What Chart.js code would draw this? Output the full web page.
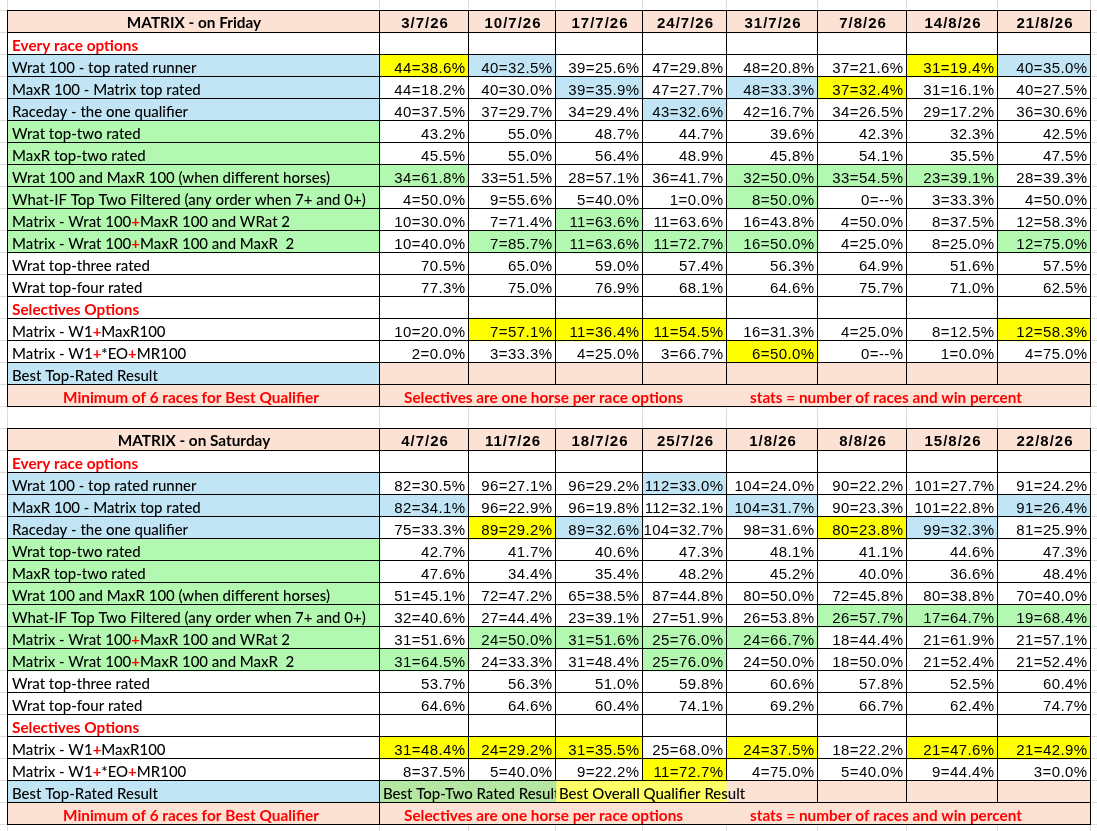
<!DOCTYPE html>
<html>
<head>
<meta charset="utf-8">
<title>MATRIX - Friday / Saturday</title>
<script src="https://cdn.jsdelivr.net/npm/chart.js@4.4.1/dist/chart.umd.min.js"></script>
<style>
  html, body { margin: 0; padding: 0; background: #ffffff; }
  canvas { display: block; }
</style>
</head>
<body>
<canvas id="matrix" width="1097" height="831"></canvas>
<script>
"use strict";

// ---- column headings ----
const fridayDates = ["3/7/26", "10/7/26", "17/7/26", "24/7/26", "31/7/26", "7/8/26", "14/8/26", "21/8/26"];
const saturdayDates = ["4/7/26", "11/7/26", "18/7/26", "25/7/26", "1/8/26", "8/8/26", "15/8/26", "22/8/26"];

// ---- row titles (same in both tables) ----
const optionLabels = [
  "Every race options",
  "Wrat 100 - top rated runner",
  "MaxR 100 - Matrix top rated",
  "Raceday - the one qualifier",
  "Wrat top-two rated",
  "MaxR top-two rated",
  "Wrat 100 and MaxR 100 (when different horses)",
  "What-IF Top Two Filtered (any order when 7+ and 0+)",
  "Matrix - Wrat 100+MaxR 100 and WRat 2",
  "Matrix - Wrat 100+MaxR 100 and MaxR  2",
  "Wrat top-three rated",
  "Wrat top-four rated",
  "Selectives Options",
  "Matrix - W1+MaxR100",
  "Matrix - W1+*EO+MR100",
  "Best Top-Rated Result"
];

const noteQualifier = "Minimum of 6 races for Best Qualifier";
const noteSelectives = "Selectives are one horse per race options";
const noteStats = "stats = number of races and win percent";
const bestTwoText = "Best Top-Two Rated Result";
const bestOverallText = "Best Overall Qualifier Result";

// ---- Friday: [races, win %] or win % ----
const friWrat100 = [[44, 38.6], [40, 32.5], [39, 25.6], [47, 29.8], [48, 20.8], [37, 21.6], [31, 19.4], [40, 35.0]];
const friMaxR100 = [[44, 18.2], [40, 30.0], [39, 35.9], [47, 27.7], [48, 33.3], [37, 32.4], [31, 16.1], [40, 27.5]];
const friRaceday = [[40, 37.5], [37, 29.7], [34, 29.4], [43, 32.6], [42, 16.7], [34, 26.5], [29, 17.2], [36, 30.6]];
const friWratTop2 = [43.2, 55.0, 48.7, 44.7, 39.6, 42.3, 32.3, 42.5];
const friMaxRTop2 = [45.5, 55.0, 56.4, 48.9, 45.8, 54.1, 35.5, 47.5];
const friWratMaxR = [[34, 61.8], [33, 51.5], [28, 57.1], [36, 41.7], [32, 50.0], [33, 54.5], [23, 39.1], [28, 39.3]];
const friWhatIf = [[4, 50.0], [9, 55.6], [5, 40.0], [1, 0.0], [8, 50.0], [0, null], [3, 33.3], [4, 50.0]];
const friMatrixW2 = [[10, 30.0], [7, 71.4], [11, 63.6], [11, 63.6], [16, 43.8], [4, 50.0], [8, 37.5], [12, 58.3]];
const friMatrixM2 = [[10, 40.0], [7, 85.7], [11, 63.6], [11, 72.7], [16, 50.0], [4, 25.0], [8, 25.0], [12, 75.0]];
const friWratTop3 = [70.5, 65.0, 59.0, 57.4, 56.3, 64.9, 51.6, 57.5];
const friWratTop4 = [77.3, 75.0, 76.9, 68.1, 64.6, 75.7, 71.0, 62.5];
const friSelW1MaxR = [[10, 20.0], [7, 57.1], [11, 36.4], [11, 54.5], [16, 31.3], [4, 25.0], [8, 12.5], [12, 58.3]];
const friSelW1EO = [[2, 0.0], [3, 33.3], [4, 25.0], [3, 66.7], [6, 50.0], [0, null], [1, 0.0], [4, 75.0]];

// ---- Saturday ----
const satWrat100 = [[82, 30.5], [96, 27.1], [96, 29.2], [112, 33.0], [104, 24.0], [90, 22.2], [101, 27.7], [91, 24.2]];
const satMaxR100 = [[82, 34.1], [96, 22.9], [96, 19.8], [112, 32.1], [104, 31.7], [90, 23.3], [101, 22.8], [91, 26.4]];
const satRaceday = [[75, 33.3], [89, 29.2], [89, 32.6], [104, 32.7], [98, 31.6], [80, 23.8], [99, 32.3], [81, 25.9]];
const satWratTop2 = [42.7, 41.7, 40.6, 47.3, 48.1, 41.1, 44.6, 47.3];
const satMaxRTop2 = [47.6, 34.4, 35.4, 48.2, 45.2, 40.0, 36.6, 48.4];
const satWratMaxR = [[51, 45.1], [72, 47.2], [65, 38.5], [87, 44.8], [80, 50.0], [72, 45.8], [80, 38.8], [70, 40.0]];
const satWhatIf = [[32, 40.6], [27, 44.4], [23, 39.1], [27, 51.9], [26, 53.8], [26, 57.7], [17, 64.7], [19, 68.4]];
const satMatrixW2 = [[31, 51.6], [24, 50.0], [31, 51.6], [25, 76.0], [24, 66.7], [18, 44.4], [21, 61.9], [21, 57.1]];
const satMatrixM2 = [[31, 64.5], [24, 33.3], [31, 48.4], [25, 76.0], [24, 50.0], [18, 50.0], [21, 52.4], [21, 52.4]];
const satWratTop3 = [53.7, 56.3, 51.0, 59.8, 60.6, 57.8, 52.5, 60.4];
const satWratTop4 = [64.6, 64.6, 60.4, 74.1, 69.2, 66.7, 62.4, 74.7];
const satSelW1MaxR = [[31, 48.4], [24, 29.2], [31, 35.5], [25, 68.0], [24, 37.5], [18, 22.2], [21, 47.6], [21, 42.9]];
const satSelW1EO = [[8, 37.5], [5, 40.0], [9, 22.2], [11, 72.7], [4, 75.0], [5, 40.0], [9, 44.4], [3, 0.0]];

// best cells per row: y = yellow, b = blue, g = green, . = none
const friMarks = ["yb....yb", "..b.by..", "...b....", "........", "........", "g...ggg.", "....g...", "..g.....", ".gggg..g", "........", "........", ".yyy...y", "....y..."];
const satMarks = ["...b....", "b...b..b", ".yb..yb.", "........", "........", "........", ".....ggg", ".gggg...", "g..g....", "........", "........", "yyy.y.yy", "...y...."];

// ---- layout (not data) ----
const COL_WIDTHS = [372, 89, 87, 87, 84, 91, 89, 91, 93];
const colEdges = [0];
COL_WIDTHS.forEach(w => colEdges.push(colEdges[colEdges.length - 1] + w));
const ROW_COUNT = 37;              // 18 rows Friday, 1 blank, 18 rows Saturday
const rowKeys = [];
for (let i = 0; i < ROW_COUNT; i++) rowKeys.push("r" + i);

const COLORS = {
  peach: "#FBE2D5",
  blue: "#C1E5F5",
  green: "#B3F8B0",
  yellow: "#FFFF00",
  bestGreen: "#B5E6A2",
  bestYellow: "#FFFF66",
  red: "#FF0000",
  grid: "#DCDCDC"
};
const MARK_COLOR = { y: "yellow", b: "blue", g: "green" };

// body rows of one table: label index, label fill, red "+" signs
const bodyRows = [
  { label: 1, fill: "blue" },
  { label: 2, fill: "blue" },
  { label: 3, fill: "blue" },
  { label: 4, fill: "green" },
  { label: 5, fill: "green" },
  { label: 6, fill: "green" },
  { label: 7, fill: "green" },
  { label: 8, fill: "green", redPlus: true },
  { label: 9, fill: "green", redPlus: true },
  { label: 10, fill: null },
  { label: 11, fill: null },
  { section: 12 },
  { label: 13, fill: null, redPlus: true },
  { label: 14, fill: null, redPlus: true }
];

const tables = [
  {
    start: 0, title: "MATRIX - on Friday", dates: fridayDates, marks: friMarks, bestMerged: false,
    values: [friWrat100, friMaxR100, friRaceday, friWratTop2, friMaxRTop2, friWratMaxR, friWhatIf,
             friMatrixW2, friMatrixM2, friWratTop3, friWratTop4, friSelW1MaxR, friSelW1EO]
  },
  {
    start: 19, title: "MATRIX - on Saturday", dates: saturdayDates, marks: satMarks, bestMerged: true,
    values: [satWrat100, satMaxR100, satRaceday, satWratTop2, satMaxRTop2, satWratMaxR, satWhatIf,
             satMatrixW2, satMatrixM2, satWratTop3, satWratTop4, satSelW1MaxR, satSelW1EO]
  }
];

function formatValue(v) {
  if (Array.isArray(v)) return `${v[0]}=${v[1] === null ? "--" : v[1].toFixed(1)}%`;
  return `${v.toFixed(1)}%`;
}

// ---- cell fills as floating bars ----
const fills = { peach: [], blue: [], green: [], yellow: [], bestGreen: [], bestYellow: [] };

function addFill(color, row, c0, c1) {
  fills[color].push({ y: rowKeys[row], x: [colEdges[c0], colEdges[c1]] });
}

tables.forEach(t => {
  const s = t.start;
  addFill("peach", s, 0, 9);
  let v = 0;
  bodyRows.forEach((br, i) => {
    const row = s + 2 + i;
    if (br.section !== undefined) return;
    if (br.fill) addFill(br.fill, row, 0, 1);
    const marks = t.marks[v];
    for (let c = 0; c < 8; c++) {
      const m = marks[c];
      if (MARK_COLOR[m]) addFill(MARK_COLOR[m], row, c + 1, c + 2);
    }
    v++;
  });
  const best = s + 16;
  addFill("blue", best, 0, 1);
  if (t.bestMerged) {
    addFill("bestGreen", best, 1, 3);
    addFill("bestYellow", best, 3, 5);
    addFill("peach", best, 5, 9);
  } else {
    addFill("peach", best, 1, 9);
  }
  addFill("peach", s + 17, 0, 9);
});

// ---- drawing helpers ----
const LABEL_FONT = "Lato";
const LABEL_WEIGHT = "500";
const DATA_FONT = "\"Liberation Sans\", Arial, sans-serif";
let sxLabel = 0.9;
let sxBold = 0.9;

function geometry(chart) {
  const xs = chart.scales.x;
  const ys = chart.scales.y;
  const band = ys.getPixelForValue(1) - ys.getPixelForValue(0);
  return {
    x: c => xs.getPixelForValue(colEdges[c]),
    top: r => ys.getPixelForValue(r) - band / 2,
    bottom: r => ys.getPixelForValue(r) + band / 2
  };
}

const crisp = v => Math.round(v) - 0.5;

// text in the label font, squeezed a little to match the sheet's narrow font
function squeezedText(ctx, parts, x, y, align, sx) {
  let total = 0;
  parts.forEach(p => { ctx.font = p.font; total += ctx.measureText(p.text).width; });
  let start = 0;
  if (align === "center") start = -total / 2;
  if (align === "right") start = -total;
  ctx.save();
  ctx.translate(x, y);
  ctx.scale(sx, 1);
  ctx.textAlign = "left";
  ctx.textBaseline = "alphabetic";
  let cx = start;
  parts.forEach(p => {
    ctx.font = p.font;
    ctx.fillStyle = p.color;
    ctx.fillText(p.text, cx, 0);
    cx += ctx.measureText(p.text).width;
  });
  ctx.restore();
}

function labelParts(text, redPlus) {
  const plain = `${LABEL_WEIGHT} 16px ${LABEL_FONT}`;
  if (!redPlus) return [{ text, font: plain, color: "#000" }];
  const parts = [];
  text.split("+").forEach((seg, i) => {
    if (i > 0) parts.push({ text: "+", font: `bold 16px ${LABEL_FONT}`, color: COLORS.red });
    parts.push({ text: seg, font: plain, color: "#000" });
  });
  return parts;
}

// faint spreadsheet gridlines behind everything
const sheetGrid = {
  id: "sheetGrid",
  beforeDatasetsDraw(chart) {
    const ctx = chart.ctx;
    const g = geometry(chart);
    ctx.save();
    ctx.strokeStyle = COLORS.grid;
    ctx.lineWidth = 1;
    ctx.beginPath();
    for (let c = 0; c <= 9; c++) {
      const x = crisp(g.x(c));
      ctx.moveTo(x, 0);
      ctx.lineTo(x, chart.height);
    }
    for (let r = 0; r <= ROW_COUNT; r++) {
      const y = crisp(g.top(r));
      ctx.moveTo(0, y);
      ctx.lineTo(chart.width, y);
    }
    ctx.stroke();
    ctx.restore();
  }
};

// borders and all cell text
const sheetText = {
  id: "sheetText",
  afterDatasetsDraw(chart) {
    const ctx = chart.ctx;
    const g = geometry(chart);

    ctx.save();
    ctx.font = `${LABEL_WEIGHT} 16px ${LABEL_FONT}`;
    sxLabel = 318 / ctx.measureText(optionLabels[6]).width;
    ctx.font = `bold 16px ${LABEL_FONT}`;
    sxBold = 256 / ctx.measureText(noteQualifier).width;

    tables.forEach(t => {
      const s = t.start;

      // borders
      ctx.strokeStyle = "#000";
      ctx.lineWidth = 1;
      ctx.beginPath();
      const left = crisp(g.x(0));
      const right = crisp(g.x(9));
      for (let k = 0; k <= 18; k++) {
        const y = crisp(g.top(s + k));
        ctx.moveTo(left - 0.5, y);
        ctx.lineTo(right + 0.5, y);
      }
      [0, 1, 9].forEach(c => {
        const x = crisp(g.x(c));
        ctx.moveTo(x, crisp(g.top(s)));
        ctx.lineTo(x, crisp(g.top(s + 18)));
      });
      for (let k = 0; k < 17; k++) {
        for (let c = 2; c <= 8; c++) {
          if (t.bestMerged && k === 16 && c <= 5) continue;
          const x = crisp(g.x(c));
          ctx.moveTo(x, crisp(g.top(s + k)));
          ctx.lineTo(x, crisp(g.top(s + k + 1)));
        }
      }
      ctx.stroke();

      // header
      const hy = g.bottom(s) - 5.5;
      squeezedText(ctx, [{ text: t.title, font: `bold 16px ${LABEL_FONT}`, color: "#000" }],
        (g.x(0) + g.x(1)) / 2, hy, "center", sxBold);
      ctx.font = `bold 15px ${DATA_FONT}`;
      ctx.letterSpacing = "1px";
      ctx.fillStyle = "#000";
      ctx.textAlign = "center";
      ctx.textBaseline = "alphabetic";
      t.dates.forEach((d, c) => ctx.fillText(d, (g.x(c + 1) + g.x(c + 2)) / 2 + 0.5, hy));
      ctx.letterSpacing = "0px";

      // section title "Every race options"
      squeezedText(ctx, [{ text: optionLabels[0], font: `bold 16px ${LABEL_FONT}`, color: COLORS.red }],
        g.x(0) + 4, g.bottom(s + 1) - 4.5, "left", sxBold);

      // body rows
      let v = 0;
      bodyRows.forEach((br, i) => {
        const row = s + 2 + i;
        const by = g.bottom(row) - 4;
        if (br.section !== undefined) {
          squeezedText(ctx, [{ text: optionLabels[br.section], font: `bold 16px ${LABEL_FONT}`, color: COLORS.red }],
            g.x(0) + 4, by - 0.5, "left", sxBold);
          return;
        }
        squeezedText(ctx, labelParts(optionLabels[br.label], br.redPlus), g.x(0) + 4, by, "left", sxLabel);
        ctx.font = `15px ${DATA_FONT}`;
        ctx.letterSpacing = "0.4px";
        ctx.fillStyle = "#000";
        ctx.textAlign = "right";
        ctx.textBaseline = "alphabetic";
        t.values[v].forEach((val, c) => ctx.fillText(formatValue(val), g.x(c + 2) - 3.5, by));
        ctx.letterSpacing = "0px";
        v++;
      });

      // best result row
      const bestRow = s + 16;
      const bestY = g.bottom(bestRow) - 4;
      squeezedText(ctx, labelParts(optionLabels[15], false), g.x(0) + 4, bestY, "left", sxLabel);
      if (t.bestMerged) {
        ctx.save();
        ctx.beginPath();
        ctx.rect(g.x(1), g.top(bestRow), g.x(3) - g.x(1), g.bottom(bestRow) - g.top(bestRow));
        ctx.clip();
        squeezedText(ctx, labelParts(bestTwoText, false), g.x(1) + 3, bestY, "left", sxLabel);
        ctx.restore();
        squeezedText(ctx, labelParts(bestOverallText, false), g.x(3) + 3, bestY, "left", sxLabel);
      }

      // footer notes
      const noteRow = s + 17;
      const ny = g.bottom(noteRow) - 4.5;
      const boldRed = txt => [{ text: txt, font: `bold 16px ${LABEL_FONT}`, color: COLORS.red }];
      squeezedText(ctx, boldRed(noteQualifier), (g.x(0) + g.x(1)) / 2 - 3, ny, "center", sxBold);
      squeezedText(ctx, boldRed(noteSelectives), g.x(1) + 24, ny, "left", sxBold);
      squeezedText(ctx, boldRed(noteStats), g.x(5) + 23, ny, "left", sxBold);
    });
    ctx.restore();
  }
};

const ctx = document.getElementById("matrix").getContext("2d");

new Chart(ctx, {
  type: "bar",
  data: {
    labels: rowKeys,
    datasets: Object.keys(fills).map(key => ({
      label: key,
      data: fills[key],
      backgroundColor: COLORS[key],
      borderWidth: 0,
      grouped: false,
      barPercentage: 1,
      categoryPercentage: 1
    }))
  },
  options: {
    indexAxis: "y",
    responsive: false,
    animation: false,
    events: [],
    layout: { padding: { left: 8, top: 11, right: 6, bottom: 6 } },
    scales: {
      x: { type: "linear", min: 0, max: colEdges[colEdges.length - 1], display: false },
      y: { type: "category", display: false }
    },
    plugins: {
      legend: { display: false },
      tooltip: { enabled: false }
    }
  },
  plugins: [sheetGrid, sheetText]
});
</script>
</body>
</html>
